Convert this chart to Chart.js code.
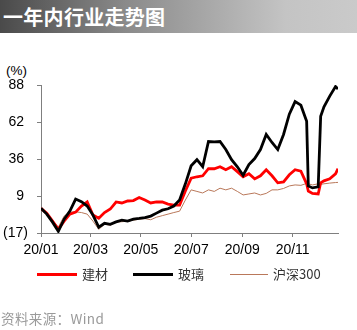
<!DOCTYPE html>
<html>
<head>
<meta charset="utf-8">
<script src="https://cdn.jsdelivr.net/npm/chart.js@4"></script>
<style>
  body { margin: 0; width: 357px; height: 330px; background: #fff; position: relative; overflow: hidden; font-family: "Liberation Sans", Arial, sans-serif; }
  #bar { position: absolute; left: 0; top: 0; width: 357px; height: 33px; background: linear-gradient(to right, #4a4a4a 0%, #8a8a8a 35%, #c4c4c4 80%, #cacaca 100%); }
  #bar span { position: absolute; left: 3px; top: 5px; color: #fff; font: bold 20px "Noto Sans CJK SC"; line-height: 24px; letter-spacing: 0.3px; }
  #unit { position: absolute; left: 6px; top: 63px; font-size: 13.5px; color: #000; }
  canvas { position: absolute; left: 0; top: 0; }
  .leg { position: absolute; top: 266px; font: 13px "Noto Sans CJK SC"; line-height: 16px; color: #333; }
  .ln { position: absolute; }
  #src { position: absolute; left: 1px; top: 309px; font: 13.5px "Noto Sans CJK SC"; letter-spacing: 0.4px; color: #9a9a9a; line-height: 18px; }
</style>
</head>
<body>
<div id="bar"><span>一年内行业走势图</span></div>
<div id="unit">(%)</div>
<canvas id="c" width="357" height="330"></canvas>
<div class="ln" style="left:37px;top:273px;width:40px;height:3px;background:#ff0000"></div>
<div class="leg" style="left:82px">建材</div>
<div class="ln" style="left:133px;top:273px;width:40px;height:3px;background:#000"></div>
<div class="leg" style="left:178px">玻璃</div>
<div class="ln" style="left:230px;top:274px;width:38px;height:1px;background:#b9785a"></div>
<div class="leg" style="left:273px">沪深300</div>
<div id="src">资料来源：Wind</div>
<script>
// 日期：2020年内第几天
const days = [0, 7, 14, 21, 28, 35, 42, 49, 56, 63, 70, 77, 84, 91, 98, 105, 112, 119, 126, 133,
  140, 147, 154, 161, 168, 175, 182, 189, 196, 203, 210, 217, 224, 231, 238, 245, 252, 259, 266, 273,
  280, 287, 294, 301, 308, 315, 322, 324, 329, 336, 339, 343, 350, 357, 360];

const jiancai = [0.5, -2.9, -8.6, -14.4, -8.6, -3.6, -2.2, 2.1, 5, -4.3, -6.5, -2.5, 0, 5, 4.3, 5.7, 6, 8.2, 6.4, 4.3,
  5, 5, 3.5, 2.8, 2.8, 12.8, 21.9, 22.9, 23.6, 28.6, 28.6, 30, 27.9, 30, 26.5, 22.9, 25, 21.4, 23.6, 27.9,
  23.6, 18.6, 19.3, 24.3, 27.9, 26.8, 17.9, 12.8, 11.1, 10.7, 18.6, 20, 21.4, 25, 28.6];

const boli = [0.5, -3.6, -9.3, -15.8, -7.2, -1.5, 7.1, 5.2, 2.1, -4.3, -12.9, -10.1, -10.8, -9.1, -7.9, -8.6, -7.2, -6.7, -6.1, -5,
  -2.9, -0.8, 0.2, 2.1, 6.4, 17.9, 30.7, 35, 30, 47.9, 47.6, 47.9, 42.2, 35, 30, 24, 31.5, 35.8, 42.2, 52.9,
  47.2, 42.2, 52.9, 67.3, 76.2, 73.7, 62.2, 16.4, 15, 15.7, 65.8, 72.6, 80.1, 86.9, 85.1];

const hs300 = [0.5, -2.9, -7.9, -12.9, -5, -2.2, -2, -2.5, -3.6, -8.6, -14.4, -10.8, -11.5, -9.3, -9, -8.6, -7.9, -7.2, -6.8, -7.6,
  -5.8, -4.7, -3.6, -2.5, -1.5, 6.4, 13.6, 12.5, 11.4, 13.6, 12.5, 14.8, 13.6, 14.8, 12.5, 10, 10.7, 11.4, 10, 11.1,
  13.6, 13.6, 14.6, 16.4, 17.1, 16.8, 18.2, 17.9, 17.1, 17.9, 17.5, 17.9, 18.4, 18.8, 18.9];

const monthTicks = [0, 60, 121, 182, 244, 305];
const monthLabels = ['20/01', '20/03', '20/05', '20/07', '20/09', '20/11'];
const yTicks = [-17, 9.25, 35.5, 61.75, 88];

function pts(arr) {
  return days.map((d, i) => ({ x: d, y: arr[i] }));
}

const axisColor = '#7f7f7f';
const tickFont = { family: 'Liberation Sans', size: 14 };

new Chart(document.getElementById('c').getContext('2d'), {
  type: 'line',
  data: {
    datasets: [
      { label: '玻璃', data: pts(boli), borderColor: '#000000', borderWidth: 2.8 },
      { label: '建材', data: pts(jiancai), borderColor: '#ff0000', borderWidth: 2.8 },
      { label: '沪深300', data: pts(hs300), borderColor: '#b9785a', borderWidth: 1 }
    ]
  },
  options: {
    responsive: false,
    animation: false,
    devicePixelRatio: 1,
    elements: { point: { radius: 0 }, line: { tension: 0 } },
    layout: { padding: { top: 85, right: 19, bottom: 72, left: 0 } },
    plugins: { legend: { display: false }, tooltip: { enabled: false } },
    scales: {
      x: {
        type: 'linear',
        min: 0,
        max: 360,
        afterBuildTicks: function(scale) {
          scale.ticks = monthTicks.map(v => ({ value: v }));
        },
        afterFit: function(scale) { scale.height = 25; },
        grid: { drawOnChartArea: false, drawTicks: true, tickLength: 4, color: axisColor },
        border: { color: axisColor, width: 1 },
        ticks: {
          font: tickFont, color: '#000', padding: 5, maxRotation: 0, autoSkip: false,
          callback: function(v) { return monthLabels[monthTicks.indexOf(v)]; }
        }
      },
      y: {
        min: -17,
        max: 88,
        afterBuildTicks: function(scale) {
          scale.ticks = yTicks.map(v => ({ value: v }));
        },
        afterFit: function(scale) { scale.width = 41; },
        grid: { drawOnChartArea: false, drawTicks: true, tickLength: 4, color: axisColor },
        border: { color: axisColor, width: 1 },
        ticks: {
          font: tickFont, color: '#000', padding: 9,
          callback: function(v) {
            const r = Math.round(v);
            return r < 0 ? '(' + (-r) + ')' : r + '\u2008';
          }
        }
      }
    }
  }
});
</script>
</body>
</html>
